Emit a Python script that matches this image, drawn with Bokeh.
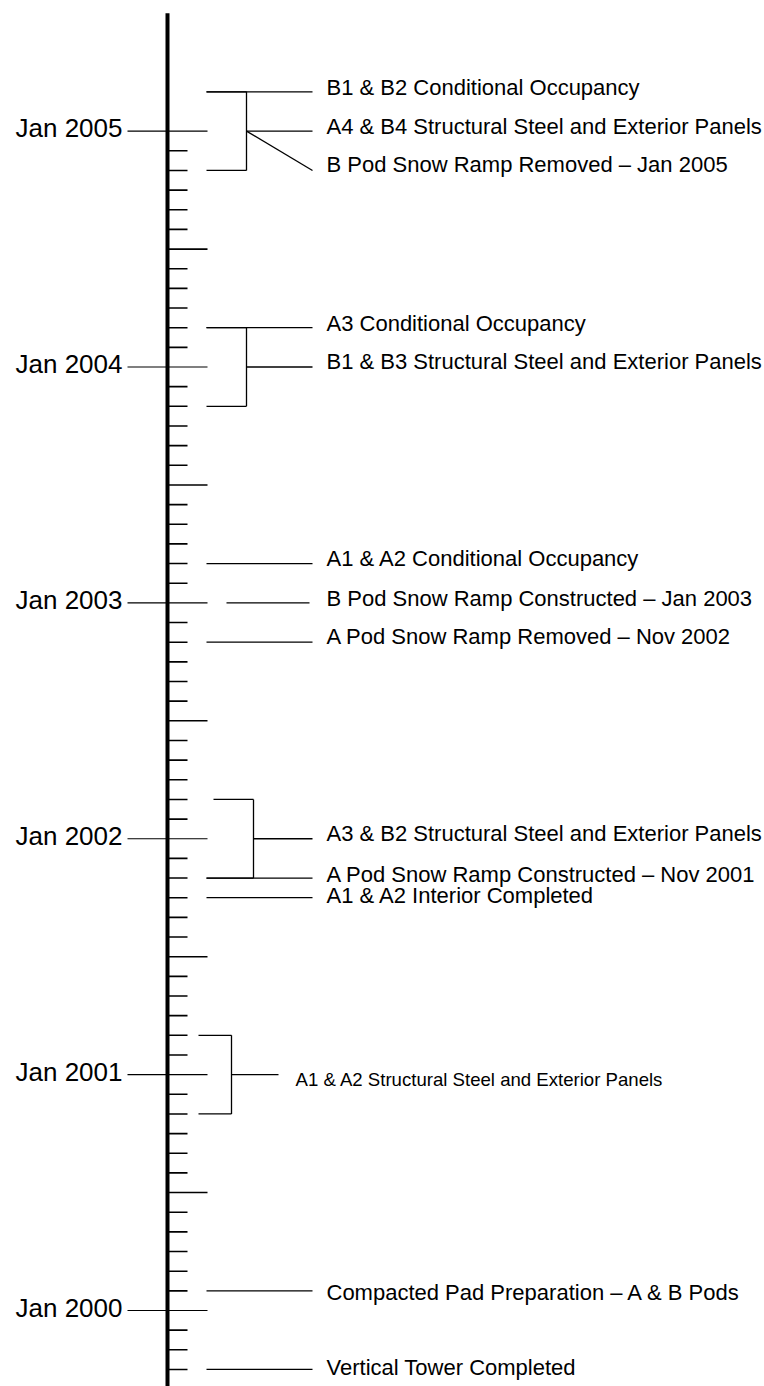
from bokeh.plotting import figure
from bokeh.models import Range1d, ColumnDataSource
from bokeh.core.properties import value
from bokeh.embed import file_html
from bokeh.resources import INLINE

# ---------------- data ----------------
tick_first = "1999-10"          # first monthly tick
tick_last = "2005-01"           # last monthly tick
line_top = "2005-07"            # top end of the timeline spine
line_bottom = "1999-06"

year_dates = ["2000-01", "2001-01", "2002-01", "2003-01", "2004-01", "2005-01"]
year_labels = ["Jan 2000", "Jan 2001", "Jan 2002", "Jan 2003", "Jan 2004", "Jan 2005"]

milestone_dates = ["2005-03", "2005-01", "2004-03", "2003-03", "2003-01",
                   "2002-11", "2001-11", "2001-10", "2000-02", "1999-10"]
milestone_labels = [
    "B1 & B2 Conditional Occupancy",
    "B Pod Snow Ramp Removed \u2013 Jan 2005",
    "A3 Conditional Occupancy",
    "A1 & A2 Conditional Occupancy",
    "B Pod Snow Ramp Constructed \u2013 Jan 2003",
    "A Pod Snow Ramp Removed \u2013 Nov 2002",
    "A Pod Snow Ramp Constructed \u2013 Nov 2001",
    "A1 & A2 Interior Completed",
    "Compacted Pad Preparation \u2013 A & B Pods",
    "Vertical Tower Completed",
]

period_starts = ["2004-11", "2003-11", "2001-11", "2000-11"]
period_ends = ["2005-03", "2004-03", "2002-03", "2001-03"]
period_labels = [
    "A4 & B4 Structural Steel and Exterior Panels",
    "B1 & B3 Structural Steel and Exterior Panels",
    "A3 & B2 Structural Steel and Exterior Panels",
    "A1 & A2 Structural Steel and Exterior Panels",
]

# ---------------- layout (pixels, styling only) ----------------
AXIS_X = 167
MINOR_END = 187
HALF_END = 207
YEAR_START = 127
YEAR_LABEL_X = 122
LABEL_X = 326
FONT = "Liberation Sans"

# milestone connectors: start x, end x, label shift (months), label vertical nudge px
ms_x0 = [206, 246, 206, 206, 226, 206, 206, 206, 206, 206]
ms_x1 = [312, 312, 312, 312, 309, 312, 312, 312, 312, 312]
ms_shift = [0, -2, 0, 0, 0, 0, 0, 0, 0, 0]
ms_dy = [-4.5, -5.9, -3.9, -4.6, -4.5, -5.5, -3.3, -2.4, 1.7, -2.0]

# period brackets: top start x, bottom start x, bracket x, connector end, label x
pd_top_x = [206, 206, 213, 198]
pd_bot_x = [206, 206, 206, 198]
pd_vx = [246, 246, 253, 231]
pd_end = [312, 312, 312, 278]
pd_lx = [326, 326, 326, 295]
pd_dy = [-4.9, -5.5, -5.3, 5.0]
pd_size = ["22px", "22px", "22px", "18.6px"]


def midx(s):
    y, m = s.split("-")
    return (int(y) - 2000) * 12 + int(m) - 1


PX_PER_MONTH = 19.656
Y0 = 1310            # pixel row of Jan 2000
W, H = 764, 1386
y_top = Y0 / PX_PER_MONTH
y_bot = -(H - Y0) / PX_PER_MONTH

p = figure(width=W, height=H, output_backend="svg", toolbar_location=None,
           x_range=Range1d(0, W), y_range=Range1d(y_bot, y_top),
           min_border=0, outline_line_color=None, background_fill_color="white",
           border_fill_color="white")
p.axis.visible = False
p.grid.visible = False

# spine
p.segment(x0=[AXIS_X], y0=[midx(line_bottom)], x1=[AXIS_X], y1=[midx(line_top)],
          line_color="black", line_width=4)

# monthly ticks
months = list(range(midx(tick_first), midx(tick_last) + 1))
minor = [m for m in months if m % 6 != 0]
half = [m for m in months if m % 12 == 6]
p.segment(x0=[AXIS_X] * len(minor), y0=minor, x1=[MINOR_END] * len(minor), y1=minor,
          line_color="black", line_width=1.6)
p.segment(x0=[AXIS_X] * len(half), y0=half, x1=[HALF_END] * len(half), y1=half,
          line_color="black", line_width=1.6)

# year ticks + labels
ym = [midx(d) for d in year_dates]
p.segment(x0=[YEAR_START] * len(ym), y0=ym, x1=[HALF_END] * len(ym), y1=ym,
          line_color="black", line_width=1.2)
p.text(x=[YEAR_LABEL_X] * len(ym), y=ym, text=year_labels, text_align="right",
       text_baseline="middle", y_offset=-3, text_font=value(FONT),
       text_font_size="26px", text_color="black")

# milestones
md = [midx(d) for d in milestone_dates]
ml = [d + s for d, s in zip(md, ms_shift)]
p.segment(x0=ms_x0, y0=md, x1=ms_x1, y1=ml, line_color="black", line_width=1.3)
src_m = ColumnDataSource(dict(x=[LABEL_X] * len(ml), y=ml, text=milestone_labels, dy=ms_dy))
p.text(x="x", y="y", text="text", y_offset="dy", source=src_m, text_align="left",
       text_baseline="middle", text_font=value(FONT),
       text_font_size="22px", text_color="black")

# periods (brackets)
ps = [midx(d) for d in period_starts]
pe = [midx(d) for d in period_ends]
pm = [(a + b) / 2 for a, b in zip(ps, pe)]
p.segment(x0=pd_top_x, y0=pe, x1=pd_vx, y1=pe, line_color="black", line_width=1.3)
p.segment(x0=pd_bot_x, y0=ps, x1=pd_vx, y1=ps, line_color="black", line_width=1.3)
p.segment(x0=pd_vx, y0=ps, x1=pd_vx, y1=pe, line_color="black", line_width=1.3)
p.segment(x0=pd_vx, y0=pm, x1=pd_end, y1=pm, line_color="black", line_width=1.3)
for i in range(len(period_labels)):
    p.text(x=[pd_lx[i]], y=[pm[i]], text=[period_labels[i]], y_offset=pd_dy[i],
           text_align="left", text_baseline="middle", text_font=value(FONT),
           text_font_size=pd_size[i], text_color="black")

open("out.html", "w").write(file_html(p, INLINE))
